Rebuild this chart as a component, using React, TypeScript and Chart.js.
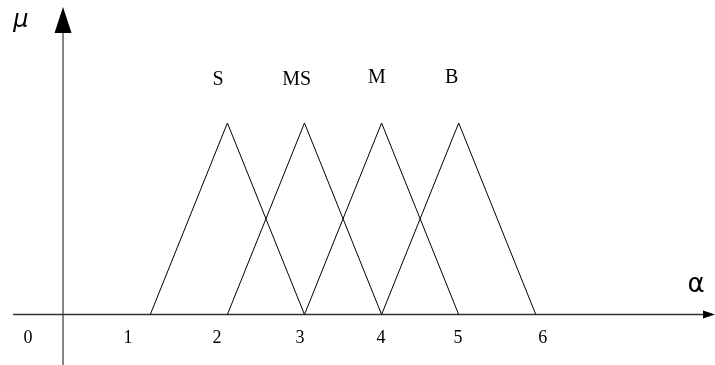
import { useEffect, useRef } from "react";
import { Chart, registerables } from "chart.js";

Chart.register(...registerables);

// Fuzzy sets: name, left foot, peak, right foot
const SET_NAMES = ["S", "MS", "M", "B"];
const SET_LEFT = [1, 2, 3, 4];
const SET_PEAK = [2, 3, 4, 5];
const SET_RIGHT = [3, 4, 5, 6];
const PEAK_GRADE = 1;

// Axis labels along α
const TICK_LABELS = ["0", "1", "2", "3", "4", "5", "6"];

// Layout (data units): where each text sits
const TICK_ANCHOR_X = [-0.586, 0.711, 1.865, 2.942, 3.992, 4.99, 6.09];
const NAME_ANCHOR_X = [1.88, 2.9, 3.94, 4.91];
const NAME_ANCHOR_Y = [1.224, 1.224, 1.234, 1.234];

const X_MIN = -0.9494;
const X_MAX = 8.3243;
const Y_MIN = -0.2637;
const Y_MAX = 1.6423;
const Y_AXIS_AT = -0.132;
const X_AXIS_START = -0.78;

const axesPlugin = {
  id: "fuzzyAxes",
  beforeDatasetsDraw(chart: any) {
    const { ctx } = chart;
    const xs = chart.scales.x;
    const ys = chart.scales.y;
    const y0 = ys.getPixelForValue(0);
    const yAxisX = xs.getPixelForValue(Y_AXIS_AT);
    const xStart = xs.getPixelForValue(X_AXIS_START);
    const right = chart.width;
    ctx.save();

    // vertical axis (μ)
    ctx.strokeStyle = "#6a6a6a";
    ctx.lineWidth = 1.6;
    ctx.beginPath();
    ctx.moveTo(yAxisX, chart.height);
    ctx.lineTo(yAxisX, 30);
    ctx.stroke();
    ctx.fillStyle = "#000";
    ctx.beginPath();
    ctx.moveTo(yAxisX, 7);
    ctx.lineTo(yAxisX - 8.5, 33);
    ctx.lineTo(yAxisX + 8.5, 33);
    ctx.closePath();
    ctx.fill();

    // horizontal axis (α)
    ctx.strokeStyle = "#333";
    ctx.lineWidth = 1.3;
    ctx.beginPath();
    ctx.moveTo(xStart, y0);
    ctx.lineTo(right - 10, y0);
    ctx.stroke();
    ctx.fillStyle = "#000";
    ctx.beginPath();
    ctx.moveTo(right, y0);
    ctx.lineTo(right - 12, y0 - 4);
    ctx.lineTo(right - 12, y0 + 4);
    ctx.closePath();
    ctx.fill();

    // tick labels
    ctx.fillStyle = "#000";
    ctx.font = '18px "Liberation Serif", serif';
    ctx.textAlign = "center";
    ctx.textBaseline = "middle";
    TICK_LABELS.forEach((t, i) => {
      ctx.fillText(t, xs.getPixelForValue(TICK_ANCHOR_X[i]), y0 + 24);
    });

    // set names
    ctx.font = '20px "Liberation Serif", serif';
    SET_NAMES.forEach((n, i) => {
      ctx.fillText(n, xs.getPixelForValue(NAME_ANCHOR_X[i]), ys.getPixelForValue(NAME_ANCHOR_Y[i]));
    });

    // axis symbols
    ctx.font = 'italic 24px "DejaVu Sans", sans-serif';
    ctx.fillText("μ", xs.getPixelForValue(-0.677), ys.getPixelForValue(1.533));
    ctx.font = '26px "DejaVu Sans", sans-serif';
    ctx.fillText("α", xs.getPixelForValue(8.078), ys.getPixelForValue(0.154));
    ctx.restore();
  },
};

export default function App() {
  const ref = useRef<HTMLCanvasElement | null>(null);

  useEffect(() => {
    if (!ref.current) return;
    const datasets = SET_NAMES.map((name, i) => ({
      label: name,
      data: [
        { x: SET_LEFT[i], y: 0 },
        { x: SET_PEAK[i], y: PEAK_GRADE },
        { x: SET_RIGHT[i], y: 0 },
      ],
      borderColor: "#000",
      borderWidth: 1,
      pointRadius: 0,
      tension: 0,
      fill: false,
    }));
    const chart = new Chart(ref.current, {
      type: "line",
      data: { datasets },
      options: {
        responsive: false,
        animation: false,
        layout: { padding: 0 },
        plugins: { legend: { display: false }, tooltip: { enabled: false }, title: { display: false } },
        scales: {
          x: { type: "linear", min: X_MIN, max: X_MAX, display: false },
          y: { type: "linear", min: Y_MIN, max: Y_MAX, display: false },
        },
      },
      plugins: [axesPlugin],
    });
    return () => chart.destroy();
  }, []);

  return (
    <div style={{ position: "fixed", left: 0, top: 0, width: 715, height: 365, background: "#fff" }}>
      <canvas ref={ref} width={715} height={365} />
    </div>
  );
}
